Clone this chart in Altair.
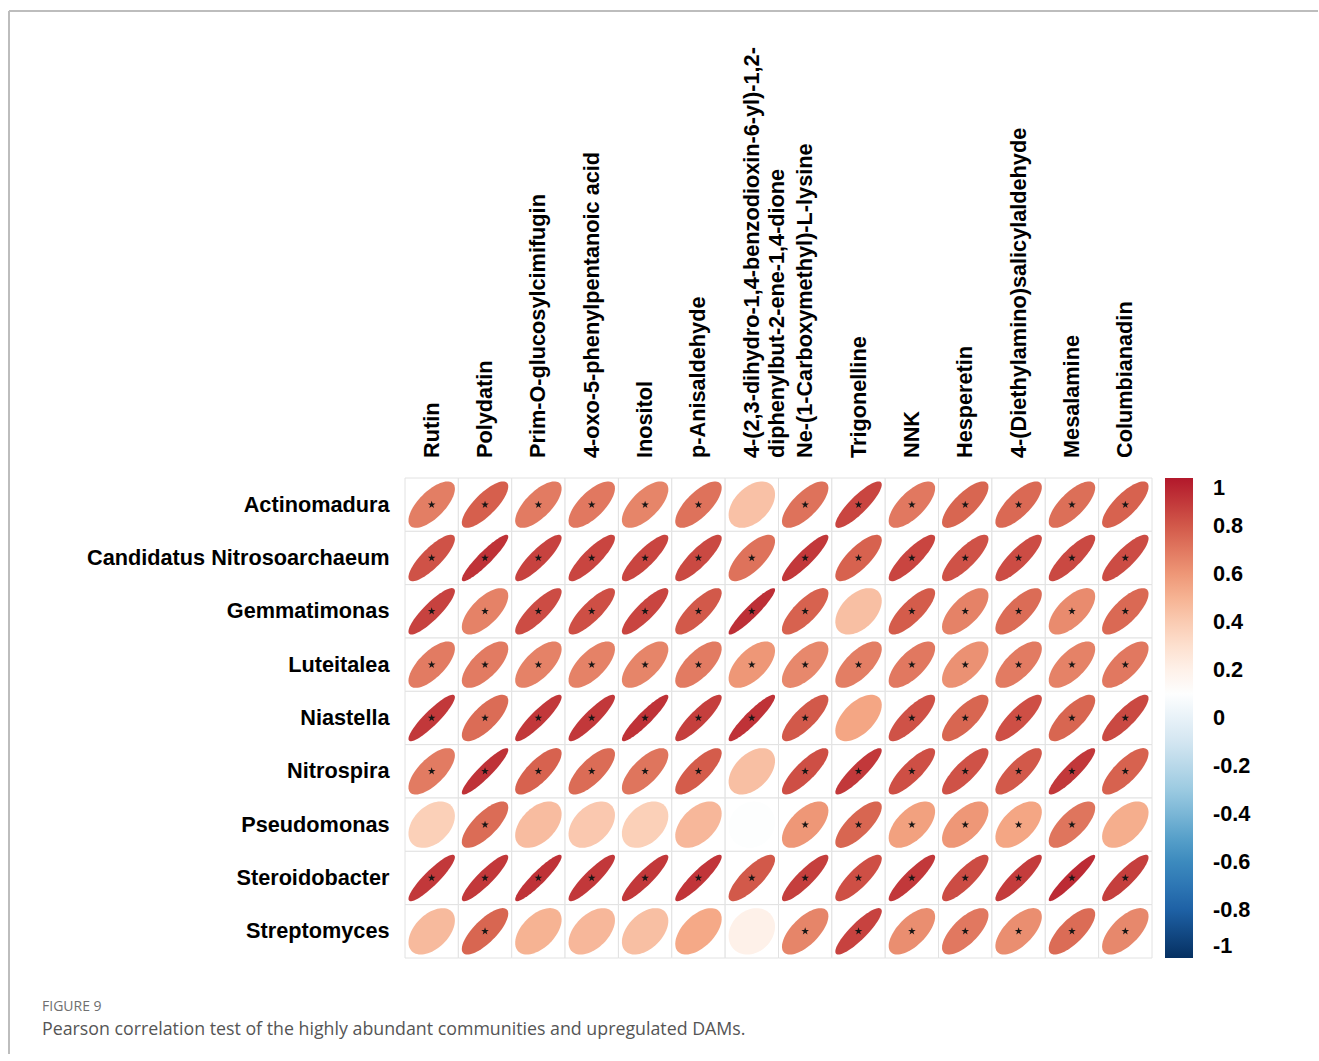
import math
import altair as alt
import pandas as pd

# Upregulated metabolites (columns) and abundant genera (rows)
metabolites = [
    "Rutin",
    "Polydatin",
    "Prim-O-glucosylcimifugin",
    "4-oxo-5-phenylpentanoic acid",
    "Inositol",
    "p-Anisaldehyde",
    "4-(2,3-dihydro-1,4-benzodioxin-6-yl)-1,2-diphenylbut-2-ene-1,4-dione",
    "Ne-(1-Carboxymethyl)-L-lysine",
    "Trigonelline",
    "NNK",
    "Hesperetin",
    "4-(Diethylamino)salicylaldehyde",
    "Mesalamine",
    "Columbianadin",
]
# Column headings as printed ("|" marks a line break)
metabolite_headings = [
    "Rutin",
    "Polydatin",
    "Prim-O-glucosylcimifugin",
    "4-oxo-5-phenylpentanoic acid",
    "Inositol",
    "p-Anisaldehyde",
    "4-(2,3-dihydro-1,4-benzodioxin-6-yl)-1,2-|diphenylbut-2-ene-1,4-dione",
    "Ne-(1-Carboxymethyl)-L-lysine",
    "Trigonelline",
    "NNK",
    "Hesperetin",
    "4-(Diethylamino)salicylaldehyde",
    "Mesalamine",
    "Columbianadin",
]

taxa = [
    "Actinomadura",
    "Candidatus Nitrosoarchaeum",
    "Gemmatimonas",
    "Luteitalea",
    "Niastella",
    "Nitrospira",
    "Pseudomonas",
    "Steroidobacter",
    "Streptomyces",
]

# Pearson r for each genus across the metabolites above
r_actinomadura = [0.68, 0.78, 0.69, 0.70, 0.66, 0.72, 0.44, 0.72, 0.86, 0.70, 0.76, 0.75, 0.73, 0.77]
r_candidatus = [0.82, 0.92, 0.87, 0.86, 0.86, 0.85, 0.72, 0.90, 0.77, 0.86, 0.82, 0.84, 0.85, 0.84]
r_gemmatimonas = [0.87, 0.67, 0.84, 0.83, 0.86, 0.80, 0.93, 0.77, 0.45, 0.79, 0.67, 0.74, 0.64, 0.75]
r_luteitalea = [0.69, 0.69, 0.67, 0.67, 0.66, 0.69, 0.60, 0.65, 0.68, 0.70, 0.62, 0.69, 0.67, 0.70]
r_niastella = [0.90, 0.74, 0.90, 0.90, 0.92, 0.88, 0.92, 0.80, 0.55, 0.82, 0.76, 0.83, 0.76, 0.85]
r_nitrospira = [0.69, 0.92, 0.77, 0.74, 0.71, 0.79, 0.45, 0.83, 0.90, 0.83, 0.82, 0.80, 0.90, 0.77]
r_pseudomonas = [0.38, 0.74, 0.46, 0.41, 0.38, 0.48, 0.10, 0.60, 0.76, 0.57, 0.60, 0.55, 0.71, 0.52]
r_steroidobacter = [0.90, 0.90, 0.92, 0.90, 0.90, 0.91, 0.80, 0.88, 0.83, 0.90, 0.84, 0.89, 0.94, 0.88]
r_streptomyces = [0.47, 0.76, 0.50, 0.48, 0.45, 0.54, 0.20, 0.66, 0.87, 0.63, 0.70, 0.63, 0.74, 0.65]

# 1 = significant (marked with a star)
sig_actinomadura = [1, 1, 1, 1, 1, 1, 0, 1, 1, 1, 1, 1, 1, 1]
sig_candidatus = [1, 1, 1, 1, 1, 1, 1, 1, 1, 1, 1, 1, 1, 1]
sig_gemmatimonas = [1, 1, 1, 1, 1, 1, 1, 1, 0, 1, 1, 1, 1, 1]
sig_luteitalea = [1, 1, 1, 1, 1, 1, 1, 1, 1, 1, 1, 1, 1, 1]
sig_niastella = [1, 1, 1, 1, 1, 1, 1, 1, 0, 1, 1, 1, 1, 1]
sig_nitrospira = [1, 1, 1, 1, 1, 1, 0, 1, 1, 1, 1, 1, 1, 1]
sig_pseudomonas = [0, 1, 0, 0, 0, 0, 0, 1, 1, 1, 1, 1, 1, 0]
sig_steroidobacter = [1, 1, 1, 1, 1, 1, 1, 1, 1, 1, 1, 1, 1, 1]
sig_streptomyces = [0, 1, 0, 0, 0, 0, 0, 1, 1, 1, 1, 1, 1, 1]

r_rows = [r_actinomadura, r_candidatus, r_gemmatimonas, r_luteitalea, r_niastella,
          r_nitrospira, r_pseudomonas, r_steroidobacter, r_streptomyces]
sig_rows = [sig_actinomadura, sig_candidatus, sig_gemmatimonas, sig_luteitalea, sig_niastella,
            sig_nitrospira, sig_pseudomonas, sig_steroidobacter, sig_streptomyces]

legend_ticks = [1, 0.8, 0.6, 0.4, 0.2, 0, -0.2, -0.4, -0.6, -0.8, -1]
palette_stops = [-1, -0.778, -0.556, -0.333, -0.111, 0.111, 0.333, 0.556, 0.778, 1]
palette_colors = ["#053061", "#2166AC", "#4393C3", "#92C5DE", "#D1E5F0",
                  "#FFFFFF", "#FDDBC7", "#F4A582", "#D6604D", "#B2182B"]

caption_label = "FIGURE 9"
caption_text = "Pearson correlation test of the highly abundant communities and upregulated DAMs."

# Five-pointed star glyph for significance marks (symbol space [-1, 1])
STAR_GLYPH = ("M0,-1 L0.2245,-0.309 L0.9511,-0.309 L0.3633,0.118 L0.5878,0.809 "
              "L0,0.382 L-0.5878,0.809 L-0.3633,0.118 L-0.9511,-0.309 L-0.2245,-0.309 Z")


def ellipse_path(r, n=72):
    """Unit ellipse glyph for a correlation r (corrplot-style), in [-1, 1] symbol space."""
    a = math.acos(max(-1.0, min(1.0, r)))
    pts = []
    for i in range(n):
        k = 2 * math.pi * i / n
        x = math.cos(k + a / 2)
        y = -math.cos(k - a / 2)
        pts.append(f"{x:.4f},{y:.4f}")
    return "M" + " L".join(pts) + " Z"


records = []
for taxon, rvals, svals in zip(taxa, r_rows, sig_rows):
    for met, r, s in zip(metabolites, rvals, svals):
        records.append({"taxon": taxon, "metabolite": met, "r": r, "sig": s,
                        "path": ellipse_path(r)})
df = pd.DataFrame(records)
col_df = pd.DataFrame({"metabolite": metabolites, "heading": metabolite_headings})

W, H = 747, 480
cell = W / len(metabolites)
glyph_size = (0.87 * cell) ** 2

LABEL_FONT = "Liberation Sans"
LABEL_SIZE = 21.7

x_enc = alt.X("metabolite:N", sort=metabolites,
              scale=alt.Scale(paddingInner=0, paddingOuter=0), axis=None)
y_enc = alt.Y(
    "taxon:N", sort=taxa,
    scale=alt.Scale(paddingInner=0, paddingOuter=0),
    axis=alt.Axis(title=None, labelFont=LABEL_FONT, labelFontSize=LABEL_SIZE,
                  labelFontWeight="bold", labelColor="#000000", labelPadding=16,
                  labelLimit=700, labelOverlap=False,
                  ticks=False, domain=False, grid=False),
)

base = alt.Chart(df).encode(x=x_enc, y=y_enc)

cells = base.mark_rect(fill="white", stroke="#e2e2e2", strokeWidth=1)

ellipses = base.mark_point(filled=True, opacity=1, size=glyph_size).encode(
    shape=alt.Shape("path:N", scale=None, legend=None),
    color=alt.Color(
        "r:Q",
        scale=alt.Scale(domain=palette_stops, range=palette_colors, interpolate="rgb"),
        legend=alt.Legend(
            title=None, orient="right", direction="vertical", offset=13,
            gradientLength=H, gradientThickness=28, gradientStrokeWidth=0,
            values=legend_ticks, format=".1~f",
            labelExpr="replace(datum.label, '\u2212', '-')",
            labelFont=LABEL_FONT, labelFontSize=LABEL_SIZE, labelFontWeight="bold",
            labelColor="#000000", labelOffset=20, labelBaseline="middle",
            labelOverlap=False, labelLimit=200,
        ),
    ),
)

stars = base.transform_filter("datum.sig == 1").mark_point(
    shape=STAR_GLYPH, filled=True, size=64, color="#151515", opacity=1
)

# Rotated metabolite names above the grid
col_labels = alt.Chart(col_df).mark_text(
    angle=270, align="left", baseline="middle", lineBreak="|", lineHeight=25,
    font=LABEL_FONT, fontSize=LABEL_SIZE, fontWeight="bold", color="#000000",
).encode(
    x=alt.X("metabolite:N", sort=metabolites, axis=None),
    y=alt.value(-20),
    text="heading:N",
)

# Page frame (top and left edges)
frame_top = alt.Chart(pd.DataFrame({"k": [0]})).mark_rule(color="#bdbdbd", strokeWidth=2).encode(
    x=alt.value(-396), x2=alt.value(913), y=alt.value(-467)
)
frame_left = alt.Chart(pd.DataFrame({"k": [0]})).mark_rule(color="#bdbdbd", strokeWidth=2).encode(
    x=alt.value(-396), y=alt.value(-467), y2=alt.value(576)
)

fig_label = alt.Chart(pd.DataFrame({"t": [caption_label]})).mark_text(
    align="left", baseline="alphabetic", font="Open Sans", fontSize=14, color="#6f6f6f"
).encode(x=alt.value(-363), y=alt.value(533), text="t:N")

fig_caption = alt.Chart(pd.DataFrame({"t": [caption_text]})).mark_text(
    align="left", baseline="alphabetic", font="Open Sans", fontSize=17.8, color="#555555"
).encode(x=alt.value(-363), y=alt.value(557), text="t:N")

chart = alt.layer(cells, ellipses, stars, col_labels, frame_top, frame_left,
                  fig_label, fig_caption).properties(
    width=W, height=H,
    padding={"left": 8, "top": 10, "right": 0, "bottom": 0},
).configure_view(stroke="transparent")

chart.save("out.html", embed_options={"renderer": "svg", "actions": False})
